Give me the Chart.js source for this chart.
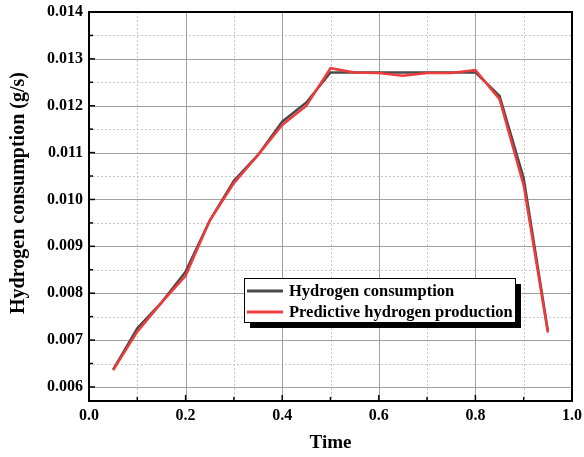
<!DOCTYPE html>
<html>
<head>
<meta charset="utf-8">
<script src="https://cdn.jsdelivr.net/npm/chart.js@4/dist/chart.umd.min.js"></script>
<style>
html,body{margin:0;padding:0;background:#fff;}
#wrap{width:584px;height:457px;position:relative;}
</style>
</head>
<body>
<div id="wrap"><canvas id="c" width="584" height="457"></canvas></div>
<script>
const timePoints = [0.05,0.10,0.15,0.20,0.25,0.30,0.35,0.40,0.45,0.50,0.55,0.60,0.65,0.70,0.75,0.80,0.85,0.90,0.95];
const consumption = [0.00637,0.00725,0.00780,0.00846,0.00955,0.01040,0.01095,0.01166,0.01207,0.01271,0.01271,0.01271,0.01271,0.01271,0.01271,0.01271,0.01221,0.01045,0.00720];
const predicted   = [0.00636,0.00718,0.00780,0.00837,0.00955,0.01035,0.01095,0.01159,0.01200,0.01280,0.01271,0.01270,0.01264,0.01270,0.01270,0.01276,0.01214,0.01030,0.00716];
const xTickLabels = ['0.0','0.2','0.4','0.6','0.8','1.0'];
const yTickLabels = ['0.006','0.007','0.008','0.009','0.010','0.011','0.012','0.013','0.014'];
const seriesNames = ['Hydrogen consumption','Predictive hydrogen production'];

const FONT = '"Liberation Serif","Times New Roman",serif';

const framePlugin = {
  id:'frame',
  beforeDatasetsDraw(chart){
    const {ctx, chartArea:a, scales:{x,y}} = chart;
    ctx.save();
    ctx.strokeStyle = '#c8c8c8'; ctx.lineWidth = 1; ctx.setLineDash([2,2]);
    for (let i=1;i<10;i+=2){ const px=Math.round(x.getPixelForValue(i/10))+0.5; ctx.beginPath(); ctx.moveTo(px,a.top); ctx.lineTo(px,a.bottom); ctx.stroke(); }
    for (let i=0;i<yTickLabels.length;i++){ const v=parseFloat(yTickLabels[i])+0.0005; if (v<0.014){ const py=Math.round(y.getPixelForValue(v))+0.5; ctx.beginPath(); ctx.moveTo(a.left,py); ctx.lineTo(a.right,py); ctx.stroke(); } }
    ctx.setLineDash([]);
    ctx.strokeStyle = '#a0a0a0'; ctx.lineWidth = 1;
    xTickLabels.forEach(l=>{ const px=Math.round(x.getPixelForValue(parseFloat(l)))+0.5; ctx.beginPath(); ctx.moveTo(px,a.top); ctx.lineTo(px,a.bottom); ctx.stroke(); });
    yTickLabels.forEach(l=>{ const py=Math.round(y.getPixelForValue(parseFloat(l)))+0.5; ctx.beginPath(); ctx.moveTo(a.left,py); ctx.lineTo(a.right,py); ctx.stroke(); });
    ctx.restore();
  },
  afterDatasetsDraw(chart){
    const {ctx, chartArea:a, scales:{x,y}} = chart;
    ctx.save();
    ctx.strokeStyle='#000'; ctx.lineWidth=2;
    ctx.strokeRect(a.left, a.top, a.right-a.left, a.bottom-a.top);
    ctx.lineWidth=1.5;
    for (let i=0;i<=10;i++){ const px=x.getPixelForValue(i/10); const len = i%2===0?6:4; ctx.beginPath(); ctx.moveTo(px,a.bottom); ctx.lineTo(px,a.bottom-len); ctx.stroke(); }
    for (let v=0.006; v<=0.01401; v+=0.0005){ const py=y.getPixelForValue(v); const major = Math.abs(Math.round(v*1000)-v*1000)<1e-6; const len = major?6:4; ctx.beginPath(); ctx.moveTo(a.left,py); ctx.lineTo(a.left+len,py); ctx.stroke(); }
    ctx.fillStyle='#000';
    ctx.font = 'bold 19px '+FONT;
    ctx.textAlign='center'; ctx.textBaseline='middle';
    ctx.fillText('Time', (a.left+a.right)/2, 443);
    ctx.font = 'bold 20px '+FONT;
    ctx.save(); ctx.translate(19, 193); ctx.rotate(-Math.PI/2);
    ctx.fillText('Hydrogen consumption (g/s)', 0, 0); ctx.restore();
    const lx=244, ly=278, lw=271, lh=44;
    ctx.fillStyle='#000'; ctx.fillRect(lx+6, ly+6, lw, lh);
    ctx.fillStyle='#fff'; ctx.fillRect(lx, ly, lw, lh);
    ctx.strokeStyle='#000'; ctx.lineWidth=1; ctx.strokeRect(lx+0.5, ly+0.5, lw, lh);
    const cols = chart.data.datasets.map(d=>d.borderColor);
    ctx.font='bold 16.5px '+FONT; ctx.textAlign='left'; ctx.textBaseline='middle';
    seriesNames.forEach((n,i)=>{
      const yy = ly+13+i*21;
      ctx.strokeStyle=cols[i]; ctx.lineWidth=3;
      ctx.beginPath(); ctx.moveTo(lx+3,yy); ctx.lineTo(lx+39,yy); ctx.stroke();
      ctx.fillStyle='#000'; ctx.fillText(n, lx+45, yy+1);
    });
    ctx.restore();
  }
};

new Chart(document.getElementById('c'), {
  type:'line',
  data:{
    datasets:[
      {label:seriesNames[0], data:timePoints.map((t,i)=>({x:t,y:consumption[i]})), borderColor:'#4a4a4a', borderWidth:2.5, pointRadius:0, tension:0, order:2},
      {label:seriesNames[1], data:timePoints.map((t,i)=>({x:t,y:predicted[i]})), borderColor:'#ee3b3b', borderWidth:2.5, pointRadius:0, tension:0, order:1}
    ]
  },
  options:{
    responsive:false, animation:false,
    layout:{padding:{top:12,right:12,left:0,bottom:0}},
    plugins:{legend:{display:false}, tooltip:{enabled:false}},
    scales:{
      x:{type:'linear', min:0, max:1,
        afterBuildTicks(s){ s.ticks = xTickLabels.map(l=>({value:parseFloat(l)})); },
        afterFit(s){ s.height = 56; s.paddingLeft = 0; s.paddingRight = 0; },
        grid:{display:false, drawTicks:false}, border:{display:false},
        ticks:{color:'#000', font:{family:FONT, size:16, weight:'bold'}, padding:5, maxRotation:0,
          callback:(v)=>xTickLabels.find(l=>Math.abs(parseFloat(l)-v)<1e-9)}
      },
      y:{type:'linear', min:0.0057, max:0.014,
        afterBuildTicks(s){ s.ticks = yTickLabels.map(l=>({value:parseFloat(l)})); },
        afterFit(s){ s.width = 89; s.paddingTop = 0; s.paddingBottom = 0; },
        grid:{display:false, drawTicks:false}, border:{display:false},
        ticks:{color:'#000', font:{family:FONT, size:16, weight:'bold'}, padding:6,
          callback:(v)=>yTickLabels.find(l=>Math.abs(parseFloat(l)-v)<1e-9)}
      }
    }
  },
  plugins:[framePlugin]
});
</script>
</body>
</html>
